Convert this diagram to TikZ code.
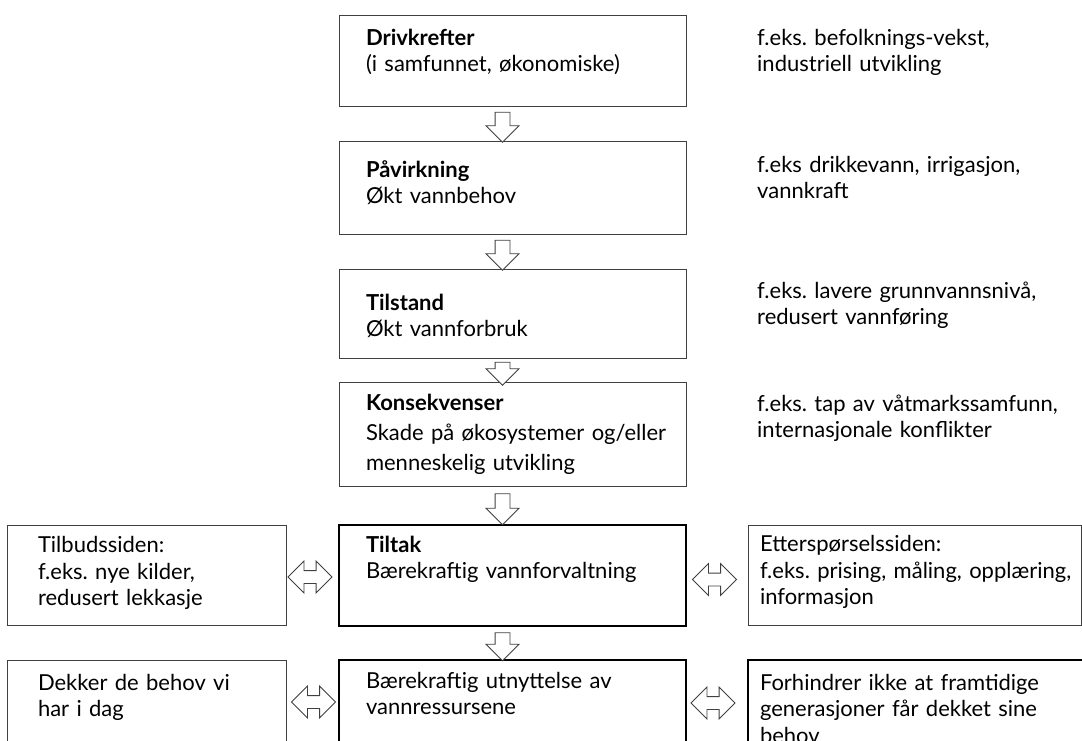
\documentclass[tikz,border=0pt]{standalone}
\usepackage{fontspec}
\setmainfont{Lato}
\usetikzlibrary{positioning, shapes.arrows, calc}

\newcommand{\boxlines}[1]{\begin{tabular}[t]{@{}l@{}}#1\end{tabular}}

\tikzset{
  box/.style={draw=black!75, line width=1pt, align=left, inner ysep=0pt, outer sep=0pt,
    font=\fontsize{22}{26.5}\selectfont\frenchspacing},
  stage/.style 2 args={box, text width=293pt, inner xsep=27pt, text height=#1, text depth=#2},
  sidebox/.style 2 args={box, text width=217pt, inner xsep=31pt, text height=#1, text depth=#2},
  farbox/.style 2 args={box, text width=309pt, inner xsep=12pt, text height=#1, text depth=#2},
  mainbox/.style={draw=black, line width=2.6pt},
  note/.style={text width=320pt, align=left, inner sep=0pt, anchor=base west,
    font=\fontsize{22}{26.5}\selectfont\frenchspacing},
  flow/.style={single arrow, draw=black!75, fill=white, line width=0.8pt,
    shape border rotate=270, minimum width=32pt, single arrow head extend=9pt,
    inner sep=7pt, minimum height=#1},
  twoway/.style={double arrow, draw=black!75, fill=white, line width=0.8pt,
    minimum height=44pt, minimum width=31pt, double arrow head extend=9.5pt,
    inner sep=6pt}
}

\begin{document}
\begin{tikzpicture}[x=1pt, y=-1pt]
  \useasboundingbox (0,0) rectangle (1082,740);
  \clip (0,0) rectangle (1082,740);

  % main chain
  \node[stage={30pt}{61pt}, anchor=north west] (drv) at (339,15)
    {\boxlines{\textbf{Drivkrefter}\\(i samfunnet, økonomiske)}};
  \node[stage={36pt}{57pt}, below=35pt of drv] (pav)
    {\boxlines{\textbf{Påvirkning}\\Økt vannbehov}};
  \node[stage={41pt}{48pt}, below=35pt of pav] (til)
    {\boxlines{\textbf{Tilstand}\\Økt vannforbruk}};
  \node[stage={28pt}{76pt}, below=24pt of til, font=\fontsize{22}{30}\selectfont] (kon)
    {\boxlines{\textbf{Konsekvenser}\\Skade på økosystemer og/eller\\menneskelig utvikling}};
  \node[stage={27pt}{74pt}, mainbox, below=39pt of kon] (tlt)
    {\boxlines{\textbf{Tiltak}\\Bærekraftig vannforvaltning}};
  \node[stage={28pt}{82pt}, mainbox, below=34pt of tlt] (bu)
    {\boxlines{Bærekraftig utnyttelse av\\vannressursene}};

  % side boxes
  \node[sidebox={27pt}{73pt}, left=53pt of tlt] (tilb)
    {\boxlines{Tilbudssiden:\\f.eks. nye kilder,\\redusert lekkasje}};
  \node[farbox={26pt}{74pt}, right=62pt of tlt] (ett)
    {\boxlines{Etterspørselssiden:\\f.eks. prising, måling, opplæring,\\informasjon}};
  \node[sidebox={30pt}{80pt}, left=53pt of bu] (dekk)
    {\boxlines{Dekker de behov vi\\har i dag}};
  \node[farbox={30pt}{80pt}, mainbox, right=62pt of bu, text width=330pt] (forh)
    {\boxlines{Forhindrer ikke at framtidige\\generasjoner får dekket sine\\behov}};

  % examples
  \node[note] (ex1) at (757,45) {f.eks. befolknings-vekst,\\industriell utvikling};
  \node[note] (ex2) at (757,172) {f.eks drikkevann, irrigasjon,\\vannkraft};
  \node[note] (ex3) at (757,298) {f.eks. lavere grunnvannsnivå,\\redusert vannføring};
  \node[note] (ex4) at (757,411) {f.eks. tap av våtmarkssamfunn,\\internasjonale konflikter};

  % down arrows
  \node[flow=30pt] (a1) at ($(drv.south)!0.5!(pav.north)+(-10,0)$) {};
  \node[flow=30pt] (a2) at ($(pav.south)!0.5!(til.north)+(-10,0)$) {};
  \node[flow=23pt] (a3) at ($(til.south)!0.5!(kon.north)+(-10,0)$) {};
  \node[flow=31pt] (a4) at ($(kon.south)!0.5!(tlt.north)+(-10,0)$) {};
  \node[flow=28pt] (a5) at ($(tlt.south)!0.5!(bu.north)+(-10,0)$) {};

  % two-way arrows
  \node[twoway] (d1) at ($(tilb.east)!0.5!(tlt.west)+(-2.5,1.5)$) {};
  \node[twoway] (d2) at ($(tlt.east)!0.5!(ett.west)+(-2.5,4)$) {};
  \node[twoway] (d3) at ($(dekk.east)!0.5!(bu.west)+(1,-13)$) {};
  \node[twoway] (d4) at ($(bu.east)!0.5!(forh.west)+(-4,-12)$) {};
\end{tikzpicture}
\end{document}
